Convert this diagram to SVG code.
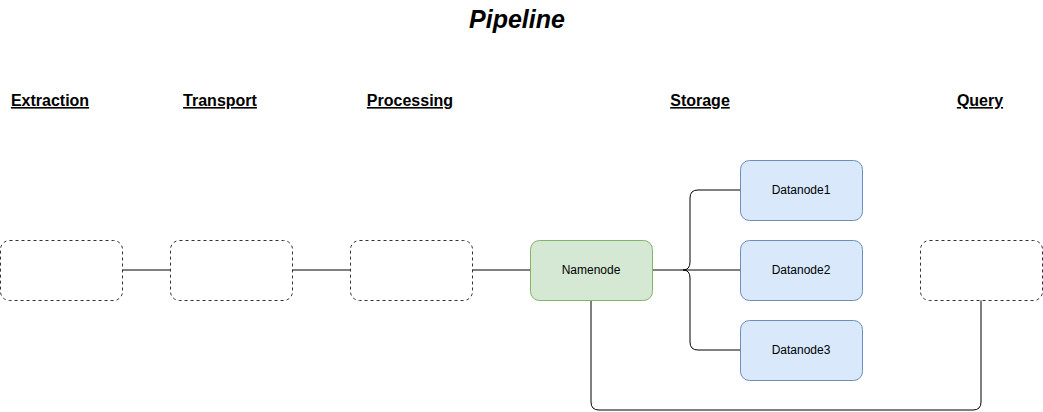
<svg xmlns="http://www.w3.org/2000/svg" width="1043" height="412" viewBox="0 0 1043 412">
<style>
.hdr{font-family:"Liberation Sans",Arial,sans-serif;font-size:16px;font-weight:bold;text-decoration:underline;text-anchor:middle;fill:#000}
.lbl{font-family:"Liberation Sans",Arial,sans-serif;font-size:12px;text-anchor:middle;fill:#000}
.dash{fill:#fff;stroke:#333;stroke-width:1;stroke-dasharray:3 3}
.green{fill:#d5e8d4;stroke:#82b366;stroke-width:1}
.blue{fill:#dae8fc;stroke:#6c8ebf;stroke-width:1}
.conn{fill:none;stroke:#000;stroke-width:1}
</style>
<rect width="1043" height="412" fill="#fff"/>
<text x="517" y="28" font-family="Liberation Sans,Arial,sans-serif" font-size="25" font-weight="bold" font-style="italic" text-anchor="middle">Pipeline</text>
<g id="headers">
<text class="hdr" x="50" y="106">Extraction</text>
<text class="hdr" x="220" y="106">Transport</text>
<text class="hdr" x="410" y="106">Processing</text>
<text class="hdr" x="700" y="106">Storage</text>
<text class="hdr" x="980" y="106">Query</text>
</g>
<g id="connectors">
<line class="conn" x1="122" y1="270" x2="170" y2="270"/>
<line class="conn" x1="292" y1="270" x2="350" y2="270"/>
<line class="conn" x1="472" y1="270" x2="530" y2="270"/>
<path class="conn" d="M652 270 H683 Q690 270 690 262 V198 Q690 190 698 190 H740"/>
<path class="conn" d="M683 270 Q690 270 690 278 V342 Q690 350 698 350 H740"/>
<line class="conn" x1="683" y1="270" x2="740" y2="270"/>
<path class="conn" d="M591 300 V402 Q591 410 599 410 H973 Q981 410 981 402 V300"/>
</g>
<g id="extraction"><rect class="dash" x="0.5" y="240.5" width="122" height="60" rx="9"/></g>
<g id="transport"><rect class="dash" x="170.5" y="240.5" width="122" height="60" rx="9"/></g>
<g id="processing"><rect class="dash" x="350.5" y="240.5" width="122" height="60" rx="9"/></g>
<g id="namenode"><rect class="green" x="530.5" y="240.5" width="122" height="60" rx="9"/><text class="lbl" x="591" y="274">Namenode</text></g>
<g id="datanode1"><rect class="blue" x="740.5" y="160.5" width="122" height="60" rx="9"/><text class="lbl" x="801" y="194">Datanode1</text></g>
<g id="datanode2"><rect class="blue" x="740.5" y="240.5" width="122" height="60" rx="9"/><text class="lbl" x="801" y="274">Datanode2</text></g>
<g id="datanode3"><rect class="blue" x="740.5" y="320.5" width="122" height="60" rx="9"/><text class="lbl" x="801" y="354">Datanode3</text></g>
<g id="query"><rect class="dash" x="920.5" y="240.5" width="122" height="60" rx="9"/></g>
</svg>
